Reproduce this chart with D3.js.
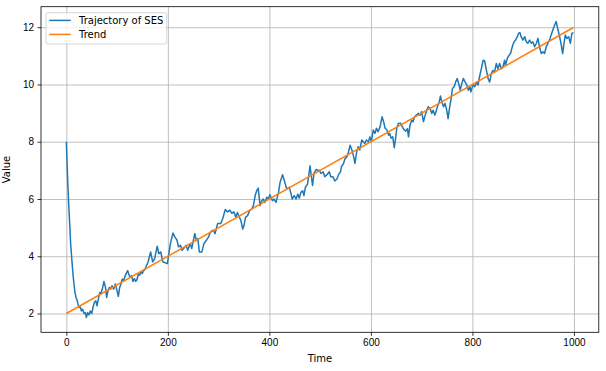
<!doctype html>
<html>
<head>
<meta charset="utf-8">
<style>
  body { margin: 0; background: #fff; }
  svg { display: block; font-family: "DejaVu Sans", sans-serif; }
  .tick text { font-size: 10px; fill: #000; }
  .grid line { stroke: #b0b0b0; stroke-width: 0.8; }
  .grid path { display: none; }
</style>
<script src="https://d3js.org/d3.v7.min.js"></script>
</head>
<body>
<svg width="606" height="371"></svg>
<script>
// values
var sesTime = [0, 1.3, 2.6, 4.6, 6.6, 8.5, 11, 13, 15, 17, 19, 21, 23, 25, 27.6, 29.5, 32, 35, 37.4, 39.4,
  42, 44.6, 47, 50, 52.5, 55, 58, 60.4, 63, 65.7, 68, 71.6, 74, 77, 79.4, 82, 84.7, 87, 90, 93,
  96.5, 99.8, 102.4, 105, 107.7, 110, 113, 115.6, 118, 120.8, 123.4, 126, 128.7, 131, 134, 136.6, 139, 141.8, 144.5, 147,
  149.7, 152, 154, 157, 161, 166, 170, 174, 179, 182, 186, 190, 195, 199, 201, 205, 210, 214, 218, 221,
  225, 228, 231, 236, 239, 244, 247, 253, 256, 259, 262, 267, 271, 276, 280, 284, 289, 293, 298, 304,
  308, 313, 318, 322, 326, 330, 334, 337, 341, 344, 347.5, 350, 353, 357, 361, 365, 368.5, 372, 375, 378,
  381.6, 385, 388, 391, 395, 398, 401, 406, 409, 413, 418, 421, 426, 429.5, 433, 435, 439, 442, 445, 449,
  452.5, 456, 459, 462, 465.6, 468, 471, 475, 477.5, 480, 483, 485, 488, 492, 495, 498.5, 501.5, 506, 509, 513,
  518, 521, 525, 529, 533, 536, 540, 542, 546, 549.4, 553, 556, 559, 562.6, 566, 568.5, 572, 575, 578, 582,
  585.6, 588, 591, 595, 598, 601, 604.6, 608, 611, 614, 618, 622, 625, 628, 631.5, 635, 637, 640, 643, 646,
  648.6, 651, 654, 658, 661, 664, 668.7, 672, 674, 677, 680.5, 683, 686, 689.7, 693.6, 697, 700, 703.5, 707, 710,
  713, 716.6, 720, 722.5, 726, 729, 732, 734, 737, 739.6, 743, 746, 749.4, 752, 754.7, 758, 760.6, 764, 767, 770,
  773.7, 776, 779, 782, 785.5, 789, 792, 795, 797, 801, 804.6, 808, 811, 814, 817.7, 821, 824, 827.5, 831, 834,
  837, 840.5, 843.7, 847, 850.3, 853.6, 857, 860, 863.4, 865, 868.7, 872, 875, 878.5, 882, 885, 888.4, 891, 893.6, 896,
  899.5, 903, 906, 909, 912.7, 916, 919, 922.5, 926, 929, 932, 935.6, 939, 942, 945.5, 948.8, 952, 955, 958.6, 962,
  965, 968.5, 971.8, 975, 977.7, 980, 983, 986, 989.5, 993, 996, 999];
var sesValue = [8.0, 7.34, 6.64, 5.82, 5.12, 4.42, 3.84, 3.38, 3.03, 2.73, 2.56, 2.47, 2.33, 2.21, 2.23, 2.09, 2.15, 2.0, 2.03, 1.86,
  2.03, 1.95, 2.09, 2.0, 2.21, 2.38, 2.44, 2.27, 2.5, 2.73, 2.68, 2.91, 3.12, 2.92, 2.56, 2.79, 2.91, 2.85, 2.97, 2.85,
  3.03, 2.79, 2.6, 2.91, 3.03, 3.2, 3.15, 3.3, 3.4, 3.5, 3.35, 3.27, 3.32, 3.12, 3.22, 3.12, 3.18, 3.38, 3.34, 3.45,
  3.4, 3.5, 3.51, 3.63, 3.8, 4.15, 3.8, 3.92, 4.35, 4.09, 4.15, 3.8, 3.77, 3.74, 3.98, 4.44, 4.81, 4.67, 4.56, 4.33,
  4.38, 4.21, 4.27, 4.38, 4.21, 4.44, 4.27, 4.79, 4.56, 4.62, 4.15, 4.15, 4.44, 4.56, 4.67, 4.85, 4.91, 4.79, 5.14, 5.14,
  5.31, 5.63, 5.55, 5.61, 5.5, 5.55, 5.36, 5.53, 5.36, 5.24, 4.95, 5.07, 5.36, 5.42, 5.59, 5.65, 5.77, 6.12, 6.29, 6.38,
  5.77, 5.94, 6.0, 5.88, 6.06, 6.0, 6.15, 5.94, 6.0, 5.88, 6.23, 6.58, 6.85, 6.64, 6.41, 6.35, 6.41, 6.23, 6.0, 6.12,
  6.0, 6.17, 6.03, 6.23, 6.29, 6.12, 6.41, 6.52, 6.81, 7.16, 6.76, 6.47, 6.9, 7.03, 7.0, 7.0, 6.89, 6.95, 6.78, 6.84,
  6.95, 6.78, 6.78, 6.63, 6.70, 6.84, 6.95, 7.13, 7.24, 7.42, 7.48, 7.65, 7.88, 7.71, 7.48, 7.24, 7.65, 7.83, 7.71, 8.06,
  7.98, 7.94, 8.06, 8.0, 8.17, 8.0, 8.41, 8.29, 8.47, 8.35, 8.52, 8.87, 8.70, 8.47, 8.41, 8.23, 8.29, 8.12, 8.17, 7.79,
  8.12, 8.47, 8.64, 8.65, 8.55, 8.45, 8.37, 8.46, 8.17, 8.58, 8.75, 8.70, 8.87, 8.93, 8.99, 8.93, 9.05, 8.70, 8.93, 9.10,
  9.22, 9.16, 8.99, 9.10, 8.93, 9.10, 9.28, 9.34, 9.60, 9.40, 9.22, 9.34, 9.10, 8.81, 9.16, 9.51, 9.86, 9.92, 10.09, 10.21,
  9.98, 9.80, 10.03, 10.21, 10.09, 9.98, 9.80, 9.92, 9.74, 10.0, 9.92, 10.09, 9.98, 10.27, 10.56, 10.85, 10.82, 10.5, 10.2, 10.08,
  10.38, 10.49, 10.44, 10.73, 10.55, 10.73, 10.55, 10.61, 10.85, 10.67, 10.91, 11.02, 11.08, 11.32, 11.49, 11.55, 11.67, 11.79, 11.81, 11.67,
  11.55, 11.67, 11.49, 11.44, 11.55, 11.44, 11.49, 11.32, 11.44, 11.61, 11.32, 11.08, 11.14, 11.08, 11.32, 11.44, 11.55, 11.73, 11.91, 12.08,
  12.2, 11.91, 11.67, 11.38, 11.08, 11.38, 11.73, 11.61, 11.67, 11.44, 11.79, 11.81];

var trendTime = [0, 999];
var trendValue = [2, 11.99];

var xTicks = [0, 200, 400, 600, 800, 1000];
var yTicks = [2, 4, 6, 8, 10, 12];
var seriesNames = ["Trajectory of SES", "Trend"];
var seriesColors = ["#1f77b4", "#ff7f0e"];

var svg = d3.select("svg"),
    plotLeft = 41, plotRight = 598.8, plotTop = 6.7, plotBottom = 332.3,
    width = plotRight - plotLeft,
    height = plotBottom - plotTop;

var ses = sesTime.map(function(t, i) { return [t, sesValue[i]]; });
var trend = trendTime.map(function(t, i) { return [t, trendValue[i]]; });

// matplotlib style 5% margins
var tExt = d3.extent(sesTime), vExt = d3.extent(sesValue.concat(trendValue));
var tPad = (tExt[1] - tExt[0]) * 0.05, vPad = (vExt[1] - vExt[0]) * 0.05;

var x = d3.scaleLinear().domain([tExt[0] - tPad, tExt[1] + tPad]).range([0, width]);
var y = d3.scaleLinear().domain([vExt[0] - vPad, vExt[1] + vPad]).range([height, 0]);

var g = svg.append("g").attr("transform", "translate(" + plotLeft + "," + plotTop + ")");

g.append("g")
 .attr("class", "grid")
 .attr("transform", "translate(0," + height + ")")
 .call(d3.axisBottom(x).tickValues(xTicks).tickSize(-height).tickFormat(""));
g.append("g")
 .attr("class", "grid")
 .call(d3.axisLeft(y).tickValues(yTicks).tickSize(-width).tickFormat(""));

g.append("clipPath").attr("id", "clip")
 .append("rect").attr("width", width).attr("height", height);

var line = d3.line()
    .x(function(d) { return x(d[0]); })
    .y(function(d) { return y(d[1]); });

g.append("path")
 .datum(ses)
 .attr("clip-path", "url(#clip)")
 .attr("fill", "none")
 .attr("stroke", seriesColors[0])
 .attr("stroke-width", 1.5)
 .attr("stroke-linejoin", "round")
 .attr("d", line);

g.append("path")
 .datum(trend)
 .attr("clip-path", "url(#clip)")
 .attr("fill", "none")
 .attr("stroke", seriesColors[1])
 .attr("stroke-width", 1.5)
 .attr("d", line);

var xAxis = g.append("g")
 .attr("transform", "translate(0," + height + ")")
 .call(d3.axisBottom(x).tickValues(xTicks).tickSize(3.5).tickPadding(3.5).tickFormat(d3.format("d")));
var yAxis = g.append("g")
 .call(d3.axisLeft(y).tickValues(yTicks).tickSize(3.5).tickPadding(3.5).tickFormat(d3.format("d")));
[xAxis, yAxis].forEach(function(a) {
  a.select(".domain").remove();
  a.selectAll(".tick line").attr("stroke", "#000").attr("stroke-width", 0.8);
});

// frame
g.append("rect")
 .attr("width", width).attr("height", height)
 .attr("fill", "none").attr("stroke", "#000").attr("stroke-width", 0.8);

g.append("text")
 .attr("x", width / 2).attr("y", height + 30)
 .attr("text-anchor", "middle")
 .attr("font-size", "10px")
 .text("Time");

g.append("text")
 .attr("transform", "rotate(-90)")
 .attr("x", -height / 2).attr("y", -31)
 .attr("text-anchor", "middle")
 .attr("font-size", "10px")
 .text("Value");

// legend
var legend = g.append("g").attr("transform", "translate(5,6)");
legend.append("rect")
 .attr("width", 120.7).attr("height", 31.3)
 .attr("rx", 2).attr("ry", 2)
 .attr("fill", "#fff").attr("fill-opacity", 0.8)
 .attr("stroke", "#cccccc").attr("stroke-width", 0.8);

var item = legend.selectAll(".item")
 .data(seriesNames)
 .enter().append("g")
 .attr("transform", function(d, i) { return "translate(0," + (i * 14) + ")"; });
item.append("line")
 .attr("x1", 3.3).attr("x2", 24.7).attr("y1", 7.7).attr("y2", 7.7)
 .attr("stroke", function(d, i) { return seriesColors[i]; })
 .attr("stroke-width", 1.5);
item.append("text")
 .attr("x", 33).attr("y", 11.3)
 .attr("font-size", "10px")
 .text(function(d) { return d; });
</script>
</body>
</html>
